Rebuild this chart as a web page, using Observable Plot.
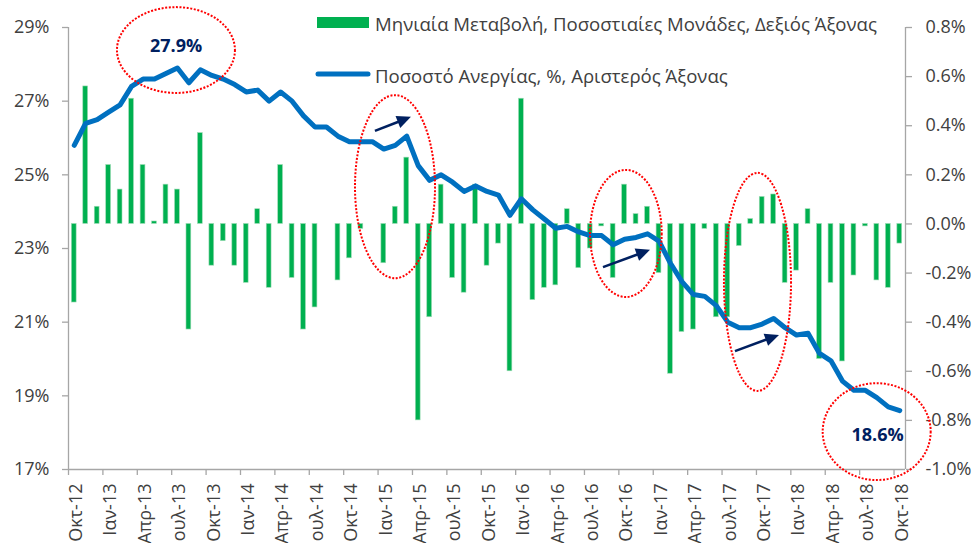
<!DOCTYPE html>
<html>
<head>
<meta charset="utf-8">
<script src="https://cdn.jsdelivr.net/npm/d3@7"></script>
<script src="https://cdn.jsdelivr.net/npm/@observablehq/plot@0.6"></script>
<style>
  html, body { margin: 0; padding: 0; background: #ffffff; }
  #chart svg { display: block; }
</style>
</head>
<body>
<div id="chart"></div>
<script>
// Monthly data, Oct-12 .. Oct-18 (73 months)
const unemploymentRate = [
  25.8, 26.4, 26.5, 26.7, 26.9, 27.4, 27.6, 27.6, 27.75, 27.9,
  27.5, 27.85, 27.7, 27.6, 27.45, 27.25, 27.3, 27.0, 27.25, 27.0,
  26.6, 26.3, 26.3, 26.05, 25.9, 25.9, 25.9, 25.7, 25.8, 26.05,
  25.25, 24.85, 25.0, 24.8, 24.55, 24.7, 24.55, 24.45, 23.9, 24.35,
  24.05, 23.8, 23.55, 23.6, 23.45, 23.35, 23.35, 23.1, 23.25, 23.3,
  23.4, 23.2, 22.6, 22.1, 21.75, 21.7, 21.45, 21.0, 20.85, 20.85,
  20.95, 21.1, 20.85, 20.65, 20.7, 20.15, 19.95, 19.4, 19.15, 19.15,
  18.95, 18.7, 18.6
];
const monthlyChange = [
  -0.32, 0.56, 0.07, 0.24, 0.14, 0.51, 0.24, 0.01, 0.16, 0.14,
  -0.43, 0.37, -0.17, -0.07, -0.17, -0.24, 0.06, -0.26, 0.24, -0.22,
  -0.43, -0.34, 0.00, -0.23, -0.14, -0.02, 0.00, -0.16, 0.07, 0.27,
  -0.80, -0.38, 0.16, -0.22, -0.28, 0.16, -0.17, -0.08, -0.60, 0.51,
  -0.31, -0.26, -0.25, 0.06, -0.18, -0.10, -0.01, -0.22, 0.16, 0.04,
  0.07, -0.20, -0.61, -0.44, -0.43, -0.02, -0.38, -0.38, -0.09, 0.02,
  0.11, 0.12, -0.24, -0.19, 0.06, -0.55, -0.24, -0.56, -0.21, -0.01,
  -0.23, -0.26, -0.08
];
const tickLabels = [
  "Οκτ-12","Ιαν-13","Απρ-13","Ιουλ-13","Οκτ-13","Ιαν-14","Απρ-14","Ιουλ-14",
  "Οκτ-14","Ιαν-15","Απρ-15","Ιουλ-15","Οκτ-15","Ιαν-16","Απρ-16","Ιουλ-16",
  "Οκτ-16","Ιαν-17","Απρ-17","Ιουλ-17","Οκτ-17","Ιαν-18","Απρ-18","Ιουλ-18","Οκτ-18"
];
const leftTicks = [17, 19, 21, 23, 25, 27, 29];
const rightTicks = [-1.0, -0.8, -0.6, -0.4, -0.2, 0.0, 0.2, 0.4, 0.6, 0.8];
const leftDomain = [17, 29];
const rightDomain = [-1.0, 0.8];
const tickStep = 3;

const seriesNames = [
  "Μηνιαία Μεταβολή, Ποσοστιαίες Μονάδες, Δεξιός Άξονας",
  "Ποσοστό Ανεργίας, %, Αριστερός Άξονας"
];

// annotations in data units (month index, left-axis %)
const annotationLabels = [
  {i: 8.88, v: 28.48, text: "27.9%"},
  {i: 70.06, v: 17.92, text: "18.6%"}
];
const ellipses = [
  {x1: 3.77, x2: 14.06, y1: 29.54, y2: 27.21},
  {x1: 24.53, x2: 31.51, y1: 27.15, y2: 22.18},
  {x1: 45.03, x2: 51.28, y1: 25.12, y2: 21.67},
  {x1: 56.71, x2: 62.56, y1: 25.04, y2: 19.12},
  {x1: 65.32, x2: 74.74, y1: 19.33, y2: 16.70}
];
const arrows = [
  {x1: 26.27, y1: 26.18, x2: 29.41, y2: 26.56},
  {x1: 46.16, y1: 22.48, x2: 50.26, y2: 22.95},
  {x1: 57.67, y1: 20.20, x2: 61.51, y2: 20.64}
];

// map right-axis (pp) values onto the left-axis scale
const k = (leftDomain[1] - leftDomain[0]) / (rightDomain[1] - rightDomain[0]);
const toLeft = pp => leftDomain[0] + (pp - rightDomain[0]) * k;
const fromLeft = v => rightDomain[0] + (v - leftDomain[0]) / k;
const fmtRight = v => { let p = Math.round(fromLeft(v) * 10) / 10; if (p === 0) p = 0; return p.toFixed(1) + "%"; };

const n = unemploymentRate.length;
const xDomain = [-0.5, n - 0.5];
const lineData = unemploymentRate.map((v, i) => ({i, v}));
const barData = monthlyChange.map((c, i) => ({i, c}));
const tickData = tickLabels.map((t, j) => ({i: j * tickStep, t}));
const boundaryTicks = tickData.map(d => d.i - 0.5);
const zero = toLeft(0);

const GREEN = "#00B050", BLUE = "#0070C0", NAVY = "#002060", GRAY = "#A6A6A6", TXT = "#404040";
const FONT = "'Open Sans', 'Noto Sans', sans-serif";

const plot = Plot.plot({
  width: 975,
  height: 543,
  marginLeft: 68,
  marginRight: 70,
  marginTop: 27,
  marginBottom: 74,
  style: {fontFamily: FONT, background: "#ffffff", color: TXT, fontSize: "18px"},
  x: {type: "linear", domain: xDomain, axis: null, label: null},
  y: {domain: leftDomain, axis: null, label: null},
  marks: [
    Plot.rectY(barData, {
      x1: d => d.i - 0.21, x2: d => d.i + 0.21,
      y1: zero, y2: d => toLeft(d.c),
      fill: GREEN, stroke: "#9fdcb6", strokeWidth: 0.6
    }),
    Plot.line(lineData, {x: "i", y: "v", stroke: BLUE, strokeWidth: 5, strokeLinejoin: "round", strokeLinecap: "round"}),
    // axis lines
    Plot.ruleX([xDomain[0]], {stroke: GRAY, strokeWidth: 1.3}),
    Plot.ruleX([xDomain[1]], {stroke: GRAY, strokeWidth: 1.3}),
    Plot.ruleY([leftDomain[0]], {stroke: GRAY, strokeWidth: 1.3}),
    // left axis
    Plot.axisY(leftTicks, {anchor: "left", tickSize: 6, tickPadding: 13, tickFormat: d => d + "%",
      fontSize: 18, fill: TXT, stroke: GRAY, strokeWidth: 1.3, label: null}),
    // right axis
    Plot.axisY(rightTicks.map(toLeft), {anchor: "right", tickSize: 6, tickPadding: 14, tickFormat: fmtRight,
      fontSize: 18, fill: TXT, stroke: GRAY, strokeWidth: 1.3, label: null}),
    // bottom ticks at category boundaries
    Plot.axisX(boundaryTicks, {anchor: "bottom", tickSize: 6, tickFormat: () => "", stroke: GRAY, strokeWidth: 1.3, label: null}),
    // bottom labels
    Plot.text(tickData, {x: "i", y: leftDomain[0], text: "t", rotate: -90, textAnchor: "end",
      lineAnchor: "middle", dx: 2, dy: 14, fontSize: 18, fill: TXT}),
    // annotation values
    Plot.text(annotationLabels, {x: "i", y: "v", text: "text", fontWeight: "bold", fontSize: 18, fill: NAVY})
  ]
});

document.getElementById("chart").appendChild(plot);

const sx = plot.scale("x"), sy = plot.scale("y");
const X = v => sx.apply(v), Y = v => sy.apply(v);
const svg = d3.select(plot);

// dotted ellipses
svg.append("g").selectAll("ellipse").data(ellipses).join("ellipse")
  .attr("cx", d => (X(d.x1) + X(d.x2)) / 2)
  .attr("cy", d => (Y(d.y1) + Y(d.y2)) / 2)
  .attr("rx", d => Math.abs(X(d.x2) - X(d.x1)) / 2)
  .attr("ry", d => Math.abs(Y(d.y2) - Y(d.y1)) / 2)
  .attr("fill", "none")
  .attr("stroke", "#FF0000")
  .attr("stroke-width", 2)
  .attr("stroke-dasharray", "2 1.6");

// arrows with filled heads
const ga = svg.append("g");
arrows.forEach(d => {
  const x1 = X(d.x1), y1 = Y(d.y1), x2 = X(d.x2), y2 = Y(d.y2);
  const dx = x2 - x1, dy = y2 - y1, L = Math.hypot(dx, dy);
  const ux = dx / L, uy = dy / L, hl = 14, hw = 6.5;
  const bx = x2 - ux * hl, by = y2 - uy * hl;
  ga.append("line").attr("x1", x1).attr("y1", y1).attr("x2", bx + ux * 2).attr("y2", by + uy * 2)
    .attr("stroke", NAVY).attr("stroke-width", 2.6);
  ga.append("path")
    .attr("d", `M${x2},${y2}L${bx - uy * hw},${by + ux * hw}L${bx + uy * hw},${by - ux * hw}Z`)
    .attr("fill", NAVY);
});

// legend (inside chart, top)
const lg = svg.append("g").attr("font-family", FONT).attr("font-size", 18.6).attr("fill", TXT)
  .attr("text-anchor", "start");
lg.append("rect").attr("x", 317).attr("y", 17).attr("width", 52).attr("height", 11).attr("fill", GREEN);
lg.append("text").attr("x", 375).attr("y", 23).attr("dominant-baseline", "central").text(seriesNames[0]);
lg.append("line").attr("x1", 318).attr("x2", 368).attr("y1", 74).attr("y2", 74)
  .attr("stroke", BLUE).attr("stroke-width", 5).attr("stroke-linecap", "round");
lg.append("text").attr("x", 375).attr("y", 75).attr("dominant-baseline", "central").text(seriesNames[1]);
</script>
</body>
</html>
